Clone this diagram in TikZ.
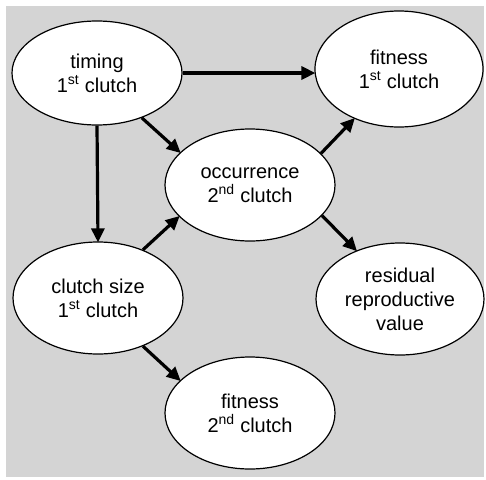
\documentclass[tikz,border=0pt]{standalone}
\usepackage{fontspec}
\setmainfont{Liberation Sans}
\usetikzlibrary{arrows.meta,shapes.geometric}
\begin{document}
\begin{tikzpicture}[x=1pt,y=-1pt,
  state/.style={draw=black, line width=1.2pt, fill=white, ellipse, inner sep=0pt,
    minimum width=170pt, minimum height=112pt, align=center,
    font=\fontsize{20}{24}\selectfont},
  link/.style={line width=3.2pt, -{Triangle[length=14pt,width=13pt]}, shorten >=-1pt}]
\useasboundingbox (0,0) rectangle (486,479);
\fill[gray!34] (6,6) rectangle (484,477);
\node[state, minimum height=104pt] (timing) at (97,73) {timing\\1\textsuperscript{st} clutch};
\node[state, minimum width=168pt, minimum height=116pt] (fit1) at (399,69) {fitness\\1\textsuperscript{st} clutch};
\node[state] (occ) at (250,185) {occurrence\\2\textsuperscript{nd} clutch};
\node[state] (size) at (98,298) {clutch size\\1\textsuperscript{st} clutch};
\node[state, minimum width=168pt] (rrv) at (400,299) {residual\\reproductive\\value};
\node[state] (fit2) at (250,413) {fitness\\2\textsuperscript{nd} clutch};
\draw[link] (timing.east) -- (timing.east -| fit1.west);
\draw[link] (timing.-45) -- (occ.155);
\draw[link] (timing.south) -- (size.north);
\draw[link] (size.47) -- (occ.204);
\draw[link] (size.-47) -- (fit2.155);
\draw[link] (occ.24) -- (fit1.228);
\draw[link] (occ.-23) -- (rrv.132);
\end{tikzpicture}
\end{document}
